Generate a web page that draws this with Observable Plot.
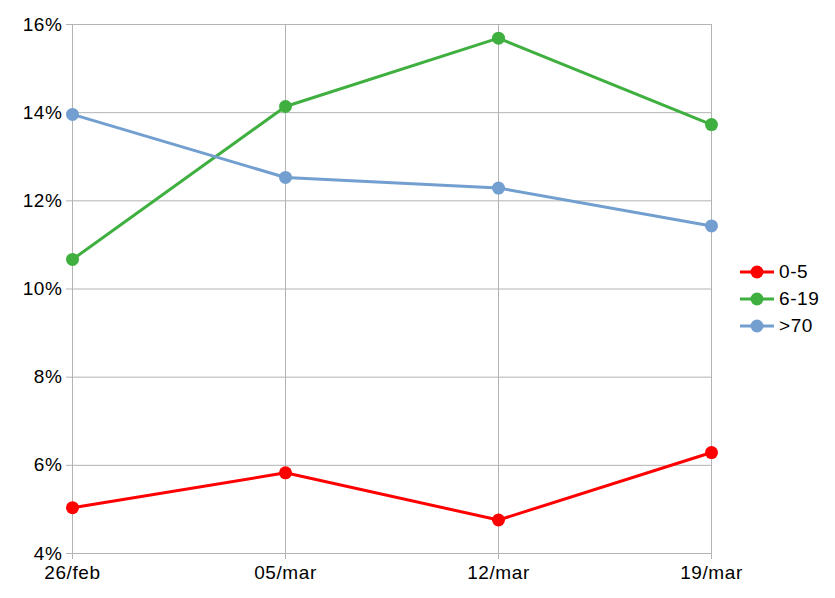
<!DOCTYPE html>
<html>
<head>
<meta charset="utf-8">
<script src="https://cdn.jsdelivr.net/npm/d3@7"></script>
<script src="https://cdn.jsdelivr.net/npm/@observablehq/plot@0.6"></script>
<style>
  body { margin: 0; background: #fff; font-family: "Liberation Sans", Arial, sans-serif; }
  #wrap { position: relative; width: 835px; height: 598px; }
  #legend { position: absolute; left: 740px; top: 258px; font-size: 19px; letter-spacing: 0.6px; color: #000; }
  #legend .row { display: flex; align-items: center; height: 27px; }
  #legend svg { margin-right: 5px; }
</style>
</head>
<body>
<div id="wrap"><div id="chart"></div><div id="legend"></div></div>
<script>
const dates = ["26/feb", "05/mar", "12/mar", "19/mar"];
const seriesNames = ["0-5", "6-19", ">70"];
const colors = ["#ff0000", "#3faf3f", "#729fcf"];
const s0_5 = [5.04, 5.83, 4.76, 6.29];
const s6_19 = [10.67, 14.14, 15.69, 13.73];
const s70 = [13.96, 12.53, 12.29, 11.43];
const yTicks = [4, 6, 8, 10, 12, 14, 16];

const values = [s0_5, s6_19, s70];
const data = [];
seriesNames.forEach((name, i) => {
  dates.forEach((d, j) => data.push({series: name, date: d, value: values[i][j]}));
});

const chart = Plot.plot({
  width: 835,
  height: 598,
  marginLeft: 72,
  marginRight: 124,
  marginTop: 24,
  marginBottom: 45,
  style: {fontFamily: "Liberation Sans, Arial, sans-serif", fontSize: "19px", letterSpacing: "0.6px", color: "#000", background: "#fff"},
  x: {type: "point", domain: dates, padding: 0},
  y: {domain: [4, 16]},
  color: {domain: seriesNames, range: colors},
  marks: [
    Plot.ruleY(yTicks, {stroke: "#b3b3b3", strokeWidth: 1}),
    Plot.ruleX(dates, {stroke: "#b3b3b3", strokeWidth: 1}),
    Plot.axisY({ticks: yTicks, tickSize: 6, tickPadding: 4, tickFormat: d => d + "%", stroke: "#b3b3b3", strokeOpacity: 1, fontSize: 19, label: null}),
    Plot.axisX({tickSize: 6, tickPadding: 6, stroke: "#b3b3b3", strokeOpacity: 1, fontSize: 19, label: null}),
    Plot.line(data, {x: "date", y: "value", z: "series", stroke: "series", strokeWidth: 3}),
    Plot.dot(data, {x: "date", y: "value", fill: "series", r: 6.5})
  ]
});
document.getElementById("chart").appendChild(chart);

const legend = document.getElementById("legend");
seriesNames.forEach((name, i) => {
  const row = document.createElement("div");
  row.className = "row";
  row.innerHTML = `<svg width="34" height="14"><line x1="0" y1="7" x2="34" y2="7" stroke="${colors[i]}" stroke-width="3"/><circle cx="17" cy="7" r="6.5" fill="${colors[i]}"/></svg><span>${name}</span>`;
  legend.appendChild(row);
});
</script>
</body>
</html>
